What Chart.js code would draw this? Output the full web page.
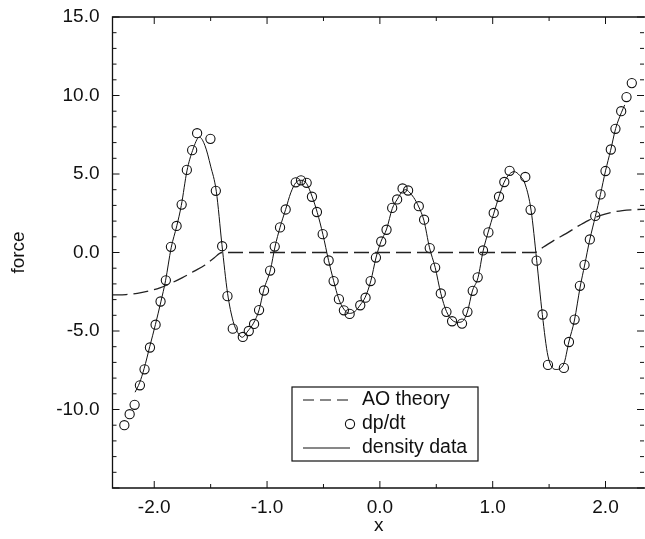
<!DOCTYPE html>
<html>
<head>
<meta charset="utf-8">
<script src="https://cdn.jsdelivr.net/npm/chart.js@4.4.0/dist/chart.umd.min.js"></script>
<style>
  html, body { margin: 0; padding: 0; background: #fff; }
  #wrap { width: 645px; height: 539px; }
</style>
</head>
<body>
<div id="wrap"><canvas id="forceChart" width="645" height="539"></canvas></div>
<script>
// Data
const xTicks = [-2, -1, 0, 1, 2];
const yTicks = [-10, -5, 0, 5, 10, 15];

// AO theory (dashed)
const aoX = [-2.37, -2.25, -2.15, -2.05, -1.95, -1.85, -1.75, -1.65, -1.55, -1.47, -1.40,
             1.37, 1.45, 1.55, 1.65, 1.75, 1.85, 1.95, 2.05, 2.15, 2.25, 2.35];
const aoY = [-2.7, -2.68, -2.6, -2.45, -2.25, -1.95, -1.6, -1.2, -0.8, -0.35, 0,
             0, 0.35, 0.8, 1.2, 1.65, 2.05, 2.35, 2.55, 2.67, 2.73, 2.75];

// dp/dt (open circles)
const dpdtX = [-2.265, -2.218, -2.174, -2.127, -2.086, -2.038, -1.988, -1.944, -1.897, -1.852,
               -1.802, -1.757, -1.711, -1.664, -1.620, -1.502, -1.454, -1.398, -1.351, -1.304,
               -1.215, -1.162, -1.115, -1.071, -1.027, -0.973, -0.932, -0.885, -0.835, -0.746,
               -0.699, -0.649, -0.602, -0.558, -0.507, -0.454, -0.410, -0.363, -0.319, -0.268,
               -0.174, -0.127, -0.082, -0.035, 0.012, 0.059, 0.109, 0.153, 0.201, 0.250,
               0.345, 0.392, 0.442, 0.490, 0.540, 0.590, 0.640, 0.728, 0.776, 0.823,
               0.867, 0.914, 0.962, 1.009, 1.056, 1.103, 1.150, 1.289, 1.336, 1.389,
               1.442, 1.490, 1.631, 1.676, 1.726, 1.773, 1.814, 1.861, 1.909, 1.956,
               2.000, 2.047, 2.088, 2.139, 2.186, 2.233];
const dpdtY = [-11.0, -10.3, -9.7, -8.46, -7.44, -6.05, -4.6, -3.12, -1.77, 0.36,
               1.69, 3.05, 5.26, 6.52, 7.6, 7.24, 3.93, 0.4, -2.78, -4.85,
               -5.38, -5.0, -4.55, -3.67, -2.42, -1.15, 0.38, 1.6, 2.74, 4.47,
               4.6, 4.44, 3.55, 2.58, 1.17, -0.51, -1.82, -2.97, -3.68, -3.91,
               -3.36, -2.88, -1.82, -0.32, 0.7, 1.45, 2.84, 3.38, 4.08, 3.95,
               2.95, 2.09, 0.28, -0.96, -2.61, -3.78, -4.38, -4.53, -3.78, -2.44,
               -1.58, 0.13, 1.28, 2.52, 3.55, 4.49, 5.2, 4.81, 2.72, -0.52,
               -3.95, -7.16, -7.35, -5.7, -4.27, -2.12, -0.79, 0.83, 2.33, 3.7,
               5.19, 6.56, 7.88, 9.0, 9.9, 10.79];

// density data (solid line)
const densityX = [-2.17, -2.13, -2.09, -2.04, -1.99, -1.94, -1.90, -1.85, -1.80, -1.76,
                  -1.71, -1.66, -1.60, -1.55, -1.50, -1.45, -1.40, -1.35, -1.30, -1.26,
                  -1.22, -1.17, -1.12, -1.07, -1.03, -0.97, -0.93, -0.885, -0.835, -0.79,
                  -0.745, -0.70, -0.65, -0.60, -0.555, -0.505, -0.455, -0.41, -0.365, -0.32,
                  -0.27, -0.22, -0.175, -0.13, -0.08, -0.035, 0.01, 0.06, 0.11, 0.155,
                  0.20, 0.23, 0.26, 0.30, 0.345, 0.39, 0.44, 0.49, 0.54, 0.59,
                  0.64, 0.69, 0.73, 0.775, 0.82, 0.87, 0.915, 0.96, 1.01, 1.055,
                  1.10, 1.15, 1.19, 1.24, 1.29, 1.34, 1.39, 1.44, 1.49, 1.56,
                  1.63, 1.675, 1.725, 1.775, 1.815, 1.86, 1.91, 1.955, 2.0, 2.045,
                  2.09, 2.14, 2.17];
const densityY = [-8.9, -8.3, -7.4, -6.0, -4.6, -3.1, -1.8, 0.3, 1.7, 3.0,
                  5.2, 6.5, 7.35, 6.8, 5.5, 3.9, 0.5, -2.6, -4.4, -5.1,
                  -5.4, -5.0, -4.5, -3.65, -2.4, -1.1, 0.35, 1.6, 2.75, 3.8,
                  4.45, 4.6, 4.4, 3.55, 2.55, 1.15, -0.5, -1.8, -2.95, -3.6,
                  -3.88, -3.75, -3.35, -2.85, -1.8, -0.35, 0.7, 1.5, 2.8, 3.4,
                  3.9, 4.0, 3.85, 3.5, 2.9, 2.05, 0.3, -0.95, -2.6, -3.75,
                  -4.3, -4.45, -4.4, -3.8, -2.45, -1.6, 0.1, 1.3, 2.5, 3.55,
                  4.45, 5.0, 5.15, 4.9, 4.3, 2.7, -0.5, -3.95, -6.6, -7.45,
                  -7.1, -5.7, -4.3, -2.2, -0.8, 0.8, 2.3, 3.7, 5.2, 6.5,
                  7.9, 8.9, 9.4];

const INK = '#111';
const FONT = '"Liberation Sans", Arial, sans-serif';

function toPoints(xs, ys) {
    return xs.map((x, i) => ({ x: x, y: ys[i] }));
}

// frame on three sides + inward tick marks on all four
const frameTicks = {
    id: 'frameTicks',
    afterDraw(chart) {
        const { ctx, chartArea: a, scales: { x, y } } = chart;
        ctx.save();
        ctx.strokeStyle = INK;
        ctx.lineWidth = 1.3;
        ctx.beginPath();
        ctx.moveTo(a.right, a.top);
        ctx.lineTo(a.left, a.top);
        ctx.lineTo(a.left, a.bottom);
        ctx.lineTo(a.right, a.bottom);
        ctx.stroke();

        ctx.lineWidth = 1;
        ctx.beginPath();
        for (let v = Math.ceil(x.min * 2) / 2; v <= x.max; v += 0.5) {
            const px = x.getPixelForValue(v);
            const len = Number.isInteger(v) ? 7 : 4;
            ctx.moveTo(px, a.bottom);
            ctx.lineTo(px, a.bottom - len);
            ctx.moveTo(px, a.top);
            ctx.lineTo(px, a.top + len);
        }
        for (let v = y.min; v <= y.max; v += 1) {
            const py = y.getPixelForValue(v);
            const len = v % 5 === 0 ? 7 : 4;
            ctx.moveTo(a.left, py);
            ctx.lineTo(a.left + len, py);
            ctx.moveTo(a.right - 1, py);
            ctx.lineTo(a.right - 1 - len, py);
        }
        ctx.stroke();
        ctx.restore();
    }
};

// boxed legend inside the plot
const legendBox = {
    id: 'legendBox',
    afterDraw(chart) {
        const { ctx, chartArea: a } = chart;
        const bx = a.left + 179.5, by = a.top + 370, bw = 186, bh = 74;
        ctx.save();
        ctx.fillStyle = '#fff';
        ctx.fillRect(bx, by, bw, bh);
        ctx.strokeStyle = INK;
        ctx.lineWidth = 1.2;
        ctx.strokeRect(bx, by, bw, bh);

        const rows = [by + 13, by + 37, by + 61];
        const x1 = bx + 11, x2 = bx + 58, tx = bx + 70;

        ctx.lineWidth = 1.2;
        ctx.setLineDash([11, 6]);
        ctx.beginPath();
        ctx.moveTo(x1, rows[0]);
        ctx.lineTo(x2, rows[0]);
        ctx.stroke();
        ctx.setLineDash([]);

        ctx.lineWidth = 1.1;
        ctx.beginPath();
        ctx.arc(x2, rows[1], 4.6, 0, Math.PI * 2);
        ctx.stroke();

        ctx.lineWidth = 1;
        ctx.beginPath();
        ctx.moveTo(x1, rows[2]);
        ctx.lineTo(x2, rows[2]);
        ctx.stroke();

        ctx.fillStyle = INK;
        ctx.font = '19.5px ' + FONT;
        ctx.textBaseline = 'middle';
        ctx.textAlign = 'left';
        ctx.fillText('AO theory', tx, rows[0]);
        ctx.fillText('dp/dt', tx, rows[1]);
        ctx.fillText('density data', tx, rows[2]);
        ctx.restore();
    }
};

function renderForceChart() {
    const ctx = document.getElementById('forceChart');
    if (!ctx) return;

    new Chart(ctx, {
        type: 'scatter',
        data: {
            datasets: [
                {
                    label: 'AO theory',
                    data: toPoints(aoX, aoY),
                    showLine: true,
                    borderColor: '#222',
                    borderWidth: 1.3,
                    borderDash: [15, 6],
                    pointRadius: 0,
                    cubicInterpolationMode: 'monotone'
                },
                {
                    label: 'density data',
                    data: toPoints(densityX, densityY),
                    showLine: true,
                    borderColor: INK,
                    borderWidth: 1,
                    pointRadius: 0,
                    cubicInterpolationMode: 'monotone'
                },
                {
                    label: 'dp/dt',
                    data: toPoints(dpdtX, dpdtY),
                    showLine: false,
                    pointStyle: 'circle',
                    pointRadius: 4.6,
                    pointBorderWidth: 1.1,
                    borderColor: INK,
                    backgroundColor: 'rgba(0,0,0,0)'
                }
            ]
        },
        options: {
            responsive: false,
            animation: false,
            devicePixelRatio: 1,
            layout: { autoPadding: false, padding: { top: 17, right: 0, left: 0, bottom: 0 } },
            scales: {
                x: {
                    type: 'linear',
                    min: -2.37,
                    max: 2.35,
                    afterFit: s => {
                        s.height = 51;
                        s.paddingLeft = 0;
                        s.paddingRight = 0;
                    },
                    grid: { display: false, drawTicks: false },
                    border: { display: false },
                    ticks: {
                        stepSize: 1,
                        includeBounds: false,
                        padding: 8,
                        color: INK,
                        font: { family: FONT, size: 19 },
                        callback: v => xTicks.includes(v) ? v.toFixed(1) : ''
                    },
                    title: {
                        display: true,
                        text: 'x',
                        color: INK,
                        font: { family: FONT, size: 19 },
                        padding: { top: 0, bottom: 2 }
                    }
                },
                y: {
                    type: 'linear',
                    min: -15,
                    max: 15,
                    afterFit: s => {
                        s.width = 112.5;
                        s.paddingTop = 0;
                        s.paddingBottom = 0;
                    },
                    grid: { display: false, drawTicks: false },
                    border: { display: false },
                    ticks: {
                        stepSize: 5,
                        padding: 13,
                        color: INK,
                        font: { family: FONT, size: 19 },
                        callback: v => yTicks.includes(v) ? v.toFixed(1) : ''
                    },
                    title: {
                        display: true,
                        text: 'force',
                        color: INK,
                        font: { family: FONT, size: 19 },
                        padding: { top: 7, bottom: 0 }
                    }
                }
            },
            plugins: {
                legend: { display: false },
                tooltip: { enabled: false }
            }
        },
        plugins: [frameTicks, legendBox]
    });
}

document.addEventListener('DOMContentLoaded', renderForceChart);
</script>
</body>
</html>
